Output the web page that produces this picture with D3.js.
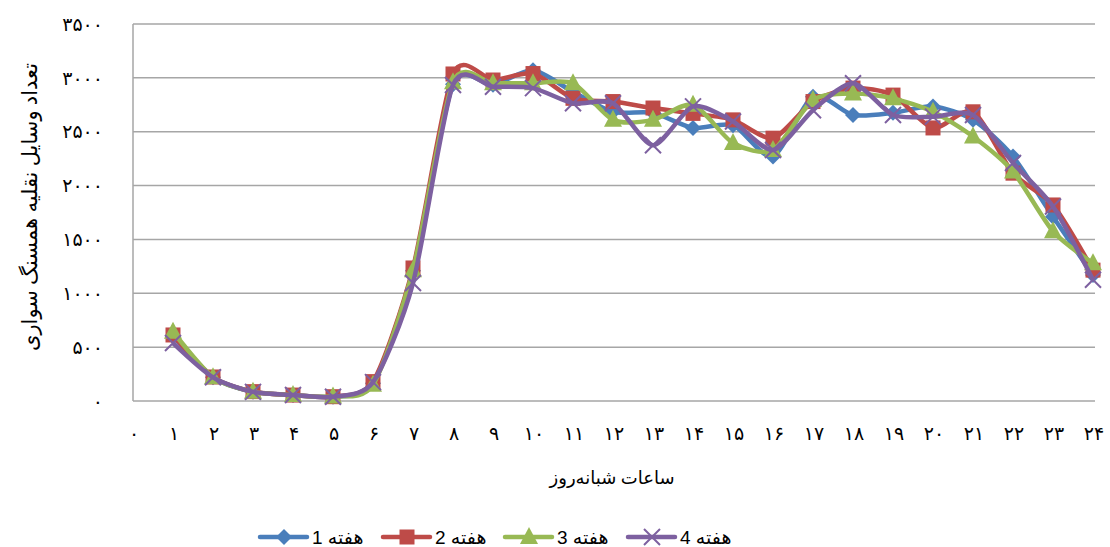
<!DOCTYPE html>
<html lang="fa">
<head>
    <meta charset="UTF-8">
    <title>Weekly hourly traffic</title>
    <script src="https://d3js.org/d3.v7.min.js"></script>
    <style>
        body { margin: 0; background: #fff; }
        .tick-label { font-family: "Liberation Serif", "DejaVu Sans", serif; font-size: 19px; letter-spacing: 2.5px; fill: #000; }
        .axis-title { font-family: "Liberation Serif", "DejaVu Sans", serif; font-size: 18px; fill: #000; }
        .legend { font-family: "Liberation Sans", "DejaVu Sans", sans-serif; font-size: 19px; fill: #000; }
    </style>
</head>
<body>
    <div id="chart"></div>

    <script>
        // hours of the day
        const hours = d3.range(1, 25);
        const yTicks = [0, 500, 1000, 1500, 2000, 2500, 3000, 3500];
        const xTicks = d3.range(0, 25);

        // values, one per hour
        const week1 = [600, 220, 85, 55, 40, 165, 1210, 2940, 2935, 3070, 2870, 2685, 2675, 2535, 2560, 2270, 2825, 2655, 2675, 2735, 2610, 2270, 1710, 1170];
        const week2 = [613, 223, 87, 55, 40, 180, 1235, 3036, 2980, 3040, 2810, 2780, 2720, 2670, 2610, 2440, 2780, 2905, 2840, 2535, 2685, 2115, 1820, 1215];
        const week3 = [643, 220, 85, 55, 42, 150, 1215, 2960, 2950, 2950, 2950, 2610, 2610, 2750, 2395, 2330, 2795, 2855, 2810, 2685, 2455, 2130, 1575, 1280];
        const week4 = [538, 220, 85, 55, 40, 175, 1095, 2934, 2918, 2905, 2765, 2765, 2375, 2735, 2595, 2330, 2700, 2950, 2655, 2640, 2655, 2210, 1805, 1125];

        const seriesNames = ["هفته 1", "هفته 2", "هفته 3", "هفته 4"];
        const seriesColors = ["#4a7ebb", "#be4b48", "#98b954", "#7d60a0"];
        const seriesShapes = ["diamond", "square", "triangle", "cross"];
        const seriesValues = [week1, week2, week3, week4];

        const faDigits = "۰۱۲۳۴۵۶۷۸۹";
        const toFa = n => String(n).replace(/\d/g, d => faDigits[d]);

        const W = 1110, H = 547;
        const svg = d3.select("#chart").append("svg")
            .attr("width", W).attr("height", H);

        const x = d3.scaleLinear().domain([0, 24]).range([133, 1093]);
        const y = d3.scaleLinear().domain([0, 3500]).range([401, 24]);

        // gridlines
        svg.append("g").selectAll("line")
            .data(yTicks)
            .join("line")
            .attr("x1", x(0)).attr("x2", x(24) + 2)
            .attr("y1", d => y(d)).attr("y2", d => y(d))
            .attr("stroke", "#a6a6a6").attr("stroke-width", 1.5);

        svg.append("line")
            .attr("x1", x(0)).attr("x2", x(0))
            .attr("y1", y(0)).attr("y2", y(3500))
            .attr("stroke", "#a6a6a6").attr("stroke-width", 1.5);

        // tick labels
        svg.append("g").selectAll("text")
            .data(yTicks)
            .join("text")
            .attr("class", "tick-label")
            .attr("x", 103)
            .attr("y", d => y(d))
            .attr("dy", "0.35em")
            .attr("text-anchor", "end")
            .text(d => toFa(d));

        svg.append("g").selectAll("text")
            .data(xTicks)
            .join("text")
            .attr("class", "tick-label")
            .attr("x", d => x(d) + 1)
            .attr("y", 433)
            .attr("dy", "0.35em")
            .attr("text-anchor", "middle")
            .text(d => toFa(d));

        // axis titles
        svg.append("text")
            .attr("class", "axis-title")
            .attr("x", 612).attr("y", 478)
            .attr("dy", "0.35em")
            .attr("text-anchor", "middle")
            .text("ساعات شبانه‌روز");

        svg.append("text")
            .attr("class", "axis-title")
            .attr("transform", "translate(30,207) rotate(-90)")
            .attr("dy", "0.35em")
            .attr("text-anchor", "middle")
            .style("font-size", "21px")
            .text("تعداد وسایل نقلیه همسنگ سواری");

        // marker drawing
        function drawMarker(g, shape, color) {
            if (shape === "diamond") {
                g.append("path").attr("d", "M0,-8L8,0L0,8L-8,0Z").attr("fill", color);
            } else if (shape === "square") {
                g.append("rect").attr("x", -7.5).attr("y", -7.5).attr("width", 15).attr("height", 15).attr("fill", color);
            } else if (shape === "triangle") {
                g.append("path").attr("d", "M0,-10L9,7L-9,7Z").attr("fill", color);
            } else {
                g.append("path").attr("d", "M-8,-8L8,8M-8,8L8,-8")
                    .attr("stroke", color).attr("stroke-width", 2).attr("fill", "none");
            }
        }

        const line = d3.line()
            .x((d, i) => x(hours[i]))
            .y(d => y(d))
            .curve(d3.curveCardinal.tension(0.25));

        seriesValues.forEach((vals, s) => {
            const g = svg.append("g");
            g.append("path")
                .datum(vals)
                .attr("d", line)
                .attr("fill", "none")
                .attr("stroke", seriesColors[s])
                .attr("stroke-width", 4.5)
                .attr("stroke-linejoin", "round");
            vals.forEach((v, i) => {
                const m = g.append("g").attr("transform", `translate(${x(hours[i])},${y(v)})`);
                drawMarker(m, seriesShapes[s], seriesColors[s]);
            });
        });

        // legend
        const legendX = [260, 383, 505, 628];
        seriesNames.forEach((name, s) => {
            const lg = svg.append("g").attr("transform", `translate(${legendX[s]},537)`);
            lg.append("line")
                .attr("x1", 0).attr("x2", 47)
                .attr("stroke", seriesColors[s]).attr("stroke-width", 4.5)
                .attr("stroke-linecap", "round");
            drawMarker(lg.append("g").attr("transform", "translate(24,0)"), seriesShapes[s], seriesColors[s]);
            lg.append("text")
                .attr("class", "legend")
                .attr("x", 52)
                .attr("dy", "0.35em")
                .attr("direction", "rtl")
                .attr("text-anchor", "end")
                .text(name);
        });
    </script>
</body>
</html>
